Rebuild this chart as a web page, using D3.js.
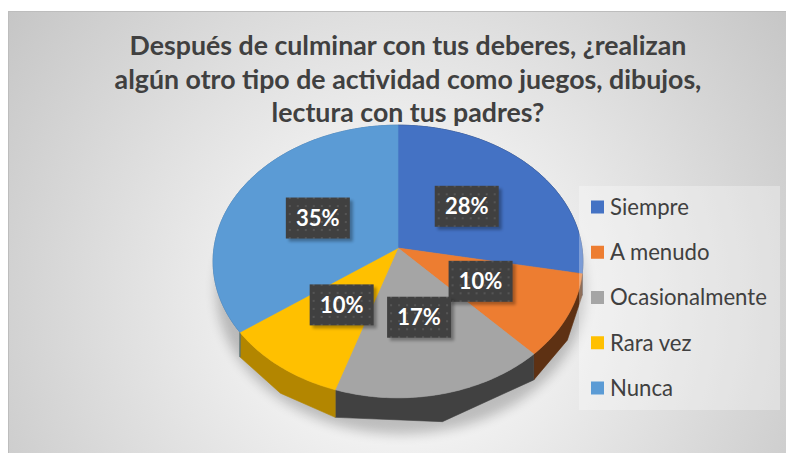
<!DOCTYPE html>
<html>
<head>
<meta charset="utf-8">
<script src="https://cdn.jsdelivr.net/npm/d3@7"></script>
<style>
  html, body { margin: 0; padding: 0; background: #fff; }
  svg { display: block; }
  text { font-family: Lato, "Open Sans", sans-serif; }
</style>
</head>
<body>
<svg id="chart" width="786" height="453"></svg>
<script>
// data
const categories = ["Siempre", "A menudo", "Ocasionalmente", "Rara vez", "Nunca"];
const values = [28, 10, 17, 10, 35];
const percentLabels = ["28%", "10%", "17%", "10%", "35%"];
const titleLines = [
  "Después de culminar con tus deberes, ¿realizan",
  "algún otro tipo de actividad como juegos, dibujos,",
  "lectura con tus padres?"
];

const svg = d3.select("#chart"),
    width = +svg.attr("width"),
    height = +svg.attr("height");

const color = d3.scaleOrdinal()
    .domain(categories)
    .range(["#4472C4", "#ED7D31", "#A5A5A5", "#FFC000", "#5B9BD5"]);

// pie geometry (tilted disc with a little perspective)
const cx = 398, cy = 248,
    rx = 184, ry = 135,
    persp = 0.099,
    depth0 = 20, depthTilt = 0.4;

function project(a, r, h) {
    const u = r * Math.sin(a), v = r * Math.cos(a);
    const s = 1 / (1 + persp * v);
    return [cx + rx * u * s, cy - ry * v * s + h * depth0 * (1 - depthTilt * v)];
}

const defs = svg.append("defs");

const bg = defs.append("radialGradient")
    .attr("id", "bg")
    .attr("gradientUnits", "userSpaceOnUse")
    .attr("cx", 400).attr("cy", 300).attr("r", 500);
bg.append("stop").attr("offset", 0).attr("stop-color", "#ffffff");
bg.append("stop").attr("offset", 0.25).attr("stop-color", "#f3f3f3");
bg.append("stop").attr("offset", 1).attr("stop-color", "#c4c4c4");

defs.append("filter").attr("id", "blur")
    .attr("x", "-20%").attr("y", "-20%").attr("width", "140%").attr("height", "140%")
  .append("feGaussianBlur").attr("stdDeviation", 6);

defs.append("filter").attr("id", "blurSmall")
    .attr("x", "-20%").attr("y", "-20%").attr("width", "140%").attr("height", "140%")
  .append("feGaussianBlur").attr("stdDeviation", 1.5);

const dots = defs.append("pattern")
    .attr("id", "dots")
    .attr("patternUnits", "userSpaceOnUse")
    .attr("width", 8).attr("height", 8);
dots.append("rect").attr("width", 8).attr("height", 8).attr("fill", "#404040");
dots.append("rect").attr("x", 3).attr("y", 3).attr("width", 2).attr("height", 2).attr("fill", "#555555");

// chart area
svg.append("rect")
    .attr("x", 8.5).attr("y", 11.5)
    .attr("width", width - 8).attr("height", height - 11)
    .attr("fill", "url(#bg)")
    .attr("stroke", "#bdbdbd");

// title
const title = svg.append("g").attr("class", "title");
title.selectAll("text")
    .data(titleLines)
    .enter().append("text")
    .attr("x", 408)
    .attr("y", (d, i) => 55 + i * 33.5)
    .attr("text-anchor", "middle")
    .attr("font-weight", "bold")
    .attr("font-size", 24)
    .attr("fill", "#404040")
    .text(d => d);

// scale title font so the second line spans what the picture shows
const line2 = title.selectAll("text").nodes()[1];
const titleSize = 24 * 587 / line2.getComputedTextLength();
title.selectAll("text").attr("font-size", titleSize);

// pie
const pie = d3.pie().sort(null).value(d => d.value);
const arcs = pie(categories.map((c, i) => ({ name: c, value: values[i], label: percentLabels[i] })));

const line = d3.line();
const step = Math.PI / 180;

function arcPoints(a0, a1, r, h) {
    const n = Math.max(2, Math.ceil((a1 - a0) / step));
    return d3.range(n + 1).map(i => project(a0 + (a1 - a0) * i / n, r, h));
}

// soft shadow under the disc
const outline = arcPoints(0, 2 * Math.PI, 1, 0).concat(arcPoints(2 * Math.PI, 0, 1, 1));
svg.append("path")
    .attr("d", line(arcPoints(0, 2 * Math.PI, 1, 1.15)) + "Z")
    .attr("transform", "translate(3,4)")
    .attr("fill", "#000")
    .attr("opacity", 0.22)
    .attr("filter", "url(#blur)");

const pieG = svg.append("g").attr("class", "pie");

// side walls
function sideColor(d) {
    const mid = (d.startAngle + d.endAngle) / 2;
    const k = mid < 200 * step ? 2.6 : 1.0;
    return d3.color(color(d.data.name)).darker(k);
}

pieG.selectAll(".wall")
    .data(arcs)
    .enter().append("path")
    .attr("class", "wall")
    .attr("d", d => line(arcPoints(d.startAngle, d.endAngle, 1, 0)
        .concat(arcPoints(d.endAngle, d.startAngle, 1, 1))) + "Z")
    .attr("fill", sideColor)
    .attr("stroke", sideColor)
    .attr("stroke-width", 0.6);

// top faces
pieG.selectAll(".slice")
    .data(arcs)
    .enter().append("path")
    .attr("class", "slice")
    .attr("d", d => line([[cx, cy]].concat(arcPoints(d.startAngle, d.endAngle, 1, 0))) + "Z")
    .attr("fill", d => color(d.data.name))
    .attr("stroke", d => color(d.data.name))
    .attr("stroke-width", 0.6)
    .attr("stroke-linejoin", "round");

// data labels
const boxW = 64, boxH = 41;
const label = svg.selectAll(".label")
    .data(arcs)
    .enter().append("g")
    .attr("class", "label")
    .attr("transform", d => {
        const p = project((d.startAngle + d.endAngle) / 2, 0.5, 0);
        return "translate(" + p[0] + "," + p[1] + ")";
    });

label.append("rect")
    .attr("x", -boxW / 2 + 3).attr("y", -boxH / 2 + 3)
    .attr("width", boxW).attr("height", boxH)
    .attr("fill", "#000")
    .attr("opacity", 0.3)
    .attr("filter", "url(#blurSmall)");

label.append("rect")
    .attr("x", -boxW / 2).attr("y", -boxH / 2)
    .attr("width", boxW).attr("height", boxH)
    .attr("fill", "url(#dots)");

label.append("text")
    .attr("text-anchor", "middle")
    .attr("dy", "0.36em")
    .attr("font-weight", "bold")
    .attr("font-size", 22)
    .attr("fill", "#ffffff")
    .text(d => d.data.label);

// legend
svg.append("rect")
    .attr("x", 579).attr("y", 186)
    .attr("width", 201).attr("height", 224)
    .attr("fill", "#ffffff")
    .attr("opacity", 0.3);

const ly = d3.scalePoint().domain(categories).range([207, 388]);

const legend = svg.selectAll(".legend")
    .data(categories)
    .enter().append("g")
    .attr("class", "legend")
    .attr("transform", d => "translate(591," + ly(d) + ")");

legend.append("rect")
    .attr("y", -6.5)
    .attr("width", 13).attr("height", 13)
    .attr("fill", d => color(d));

legend.append("text")
    .attr("x", 19)
    .attr("dy", "0.36em")
    .attr("font-size", 20)
    .attr("fill", "#404040")
    .text(d => d);

const longest = legend.selectAll("text").nodes()[2];
const legendSize = 20 * 157 / longest.getComputedTextLength();
legend.selectAll("text").attr("font-size", legendSize);
</script>
</body>
</html>
